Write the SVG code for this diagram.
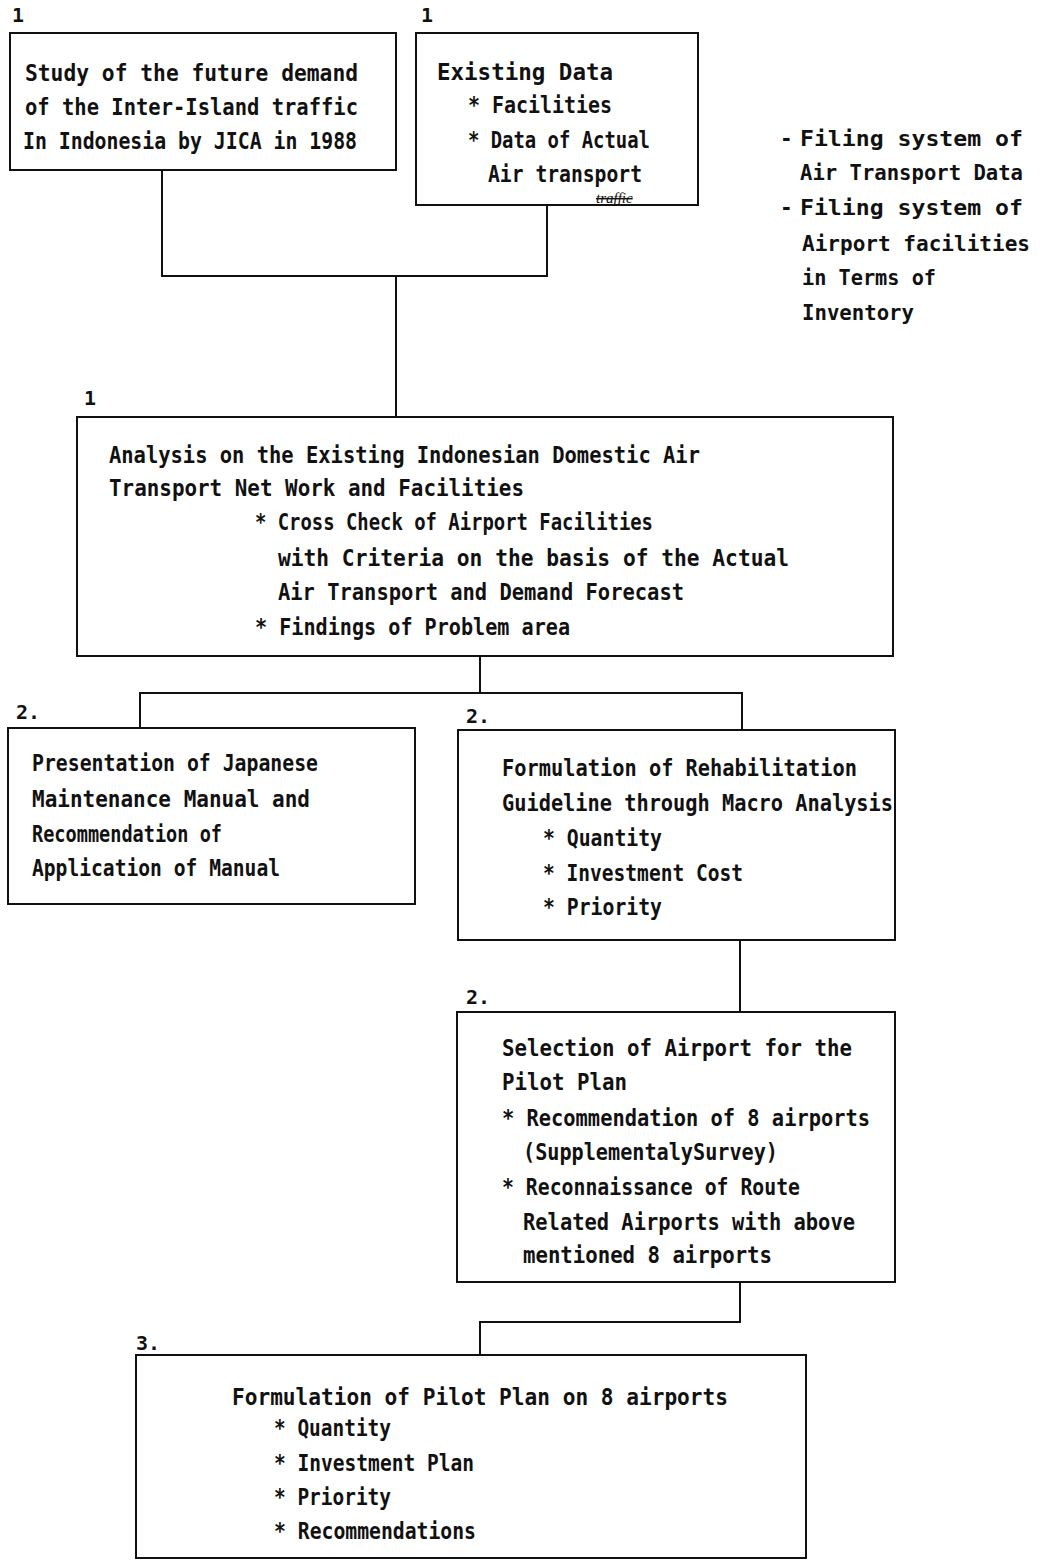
<svg xmlns="http://www.w3.org/2000/svg" width="1043" height="1564" viewBox="0 0 1043 1564">
<style>
.bg{fill:#ffffff}
.box{fill:none;stroke:#111;stroke-width:2}
.con{fill:none;stroke:#111;stroke-width:2}
.t{font-family:"DejaVu Sans Mono","Liberation Mono",monospace;font-size:23px;font-weight:bold;fill:#111}
.s{font-family:"DejaVu Sans Mono","Liberation Mono",monospace;font-size:21px;font-weight:bold;fill:#111}
.lb{font-family:"DejaVu Sans Mono","Liberation Mono",monospace;font-size:20px;font-weight:bold;fill:#111}
.hw{font-family:"Liberation Serif",serif;font-size:15px;font-style:italic;fill:#111;text-decoration:line-through}
</style>
<rect class="bg" x="0" y="0" width="1043" height="1564"/>
<g id="connectors">
<polyline class="con" points="162,170 162,276 547,276 547,205"/>
<line class="con" x1="396" y1="276" x2="396" y2="417"/>
<line class="con" x1="480" y1="656" x2="480" y2="693"/>
<polyline class="con" points="140,728 140,693 742,693 742,730"/>
<line class="con" x1="740" y1="940" x2="740" y2="1012"/>
<polyline class="con" points="740,1282 740,1322 480,1322 480,1355"/>
</g>
<g id="nodeA">
<text class="lb" x="12" y="22">1</text>
<rect class="box" x="10" y="33" width="386" height="137"/>
<text class="t" x="25" y="81" textLength="333" lengthAdjust="spacingAndGlyphs">Study  of  the  future demand</text>
<text class="t" x="25" y="115" textLength="333" lengthAdjust="spacingAndGlyphs">of the Inter-Island   traffic</text>
<text class="t" x="23" y="149" textLength="334" lengthAdjust="spacingAndGlyphs">In Indonesia  by  JICA in 1988</text>
</g>
<g id="nodeB">
<text class="lb" x="421" y="22">1</text>
<rect class="box" x="416" y="33" width="282" height="172"/>
<text class="t" x="437" y="80" textLength="176" lengthAdjust="spacingAndGlyphs">Existing  Data</text>
<text class="t" x="468" y="113" textLength="144" lengthAdjust="spacingAndGlyphs">* Facilities</text>
<text class="t" x="468" y="148" textLength="182" lengthAdjust="spacingAndGlyphs">* Data of Actual</text>
<text class="t" x="488" y="182" textLength="154" lengthAdjust="spacingAndGlyphs">Air transport</text>
<text class="hw" x="596" y="203">traffic</text>
</g>
<g id="sideNote">
<text class="s" x="780" y="146">-</text>
<text class="s" x="800" y="146" textLength="223" lengthAdjust="spacingAndGlyphs">Filing system of</text>
<text class="s" x="800" y="180" textLength="223" lengthAdjust="spacingAndGlyphs">Air Transport Data</text>
<text class="s" x="780" y="215">-</text>
<text class="s" x="800" y="215" textLength="223" lengthAdjust="spacingAndGlyphs">Filing system of</text>
<text class="s" x="802" y="251" textLength="228" lengthAdjust="spacingAndGlyphs">Airport facilities</text>
<text class="s" x="802" y="285" textLength="134" lengthAdjust="spacingAndGlyphs">in Terms of</text>
<text class="s" x="802" y="320" textLength="112" lengthAdjust="spacingAndGlyphs">Inventory</text>
</g>
<g id="nodeC">
<text class="lb" x="84" y="405">1</text>
<rect class="box" x="77" y="417" width="816" height="239"/>
<text class="t" x="109" y="463" textLength="591" lengthAdjust="spacingAndGlyphs">Analysis  on  the Existing Indonesian Domestic Air</text>
<text class="t" x="109" y="496" textLength="415" lengthAdjust="spacingAndGlyphs">Transport Net Work and  Facilities</text>
<text class="t" x="255" y="530" textLength="398" lengthAdjust="spacingAndGlyphs">* Cross Check of Airport Facilities</text>
<text class="t" x="278" y="566" textLength="511" lengthAdjust="spacingAndGlyphs">with Criteria on  the basis of  the Actual</text>
<text class="t" x="278" y="600" textLength="406" lengthAdjust="spacingAndGlyphs">Air Transport and  Demand Forecast</text>
<text class="t" x="255" y="635" textLength="315" lengthAdjust="spacingAndGlyphs">* Findings of  Problem area</text>
</g>
<g id="nodeD">
<text class="lb" x="16" y="719">2.</text>
<rect class="box" x="8" y="728" width="407" height="176"/>
<text class="t" x="32" y="771" textLength="286" lengthAdjust="spacingAndGlyphs">Presentation of  Japanese</text>
<text class="t" x="32" y="807" textLength="278" lengthAdjust="spacingAndGlyphs">Maintenance Manual  and</text>
<text class="t" x="32" y="842" textLength="190" lengthAdjust="spacingAndGlyphs">Recommendation of</text>
<text class="t" x="32" y="876" textLength="248" lengthAdjust="spacingAndGlyphs">Application of  Manual</text>
</g>
<g id="nodeE">
<text class="lb" x="466" y="723">2.</text>
<rect class="box" x="458" y="730" width="437" height="210"/>
<text class="t" x="502" y="776" textLength="355" lengthAdjust="spacingAndGlyphs">Formulation of  Rehabilitation</text>
<text class="t" x="502" y="811" textLength="391" lengthAdjust="spacingAndGlyphs">Guideline through Macro Analysis</text>
<text class="t" x="543" y="846" textLength="119" lengthAdjust="spacingAndGlyphs">* Quantity</text>
<text class="t" x="543" y="881" textLength="200" lengthAdjust="spacingAndGlyphs">* Investment Cost</text>
<text class="t" x="543" y="915" textLength="119" lengthAdjust="spacingAndGlyphs">* Priority</text>
</g>
<g id="nodeF">
<text class="lb" x="466" y="1004">2.</text>
<rect class="box" x="457" y="1012" width="438" height="270"/>
<text class="t" x="502" y="1056" textLength="350" lengthAdjust="spacingAndGlyphs">Selection of  Airport for  the</text>
<text class="t" x="502" y="1090" textLength="125" lengthAdjust="spacingAndGlyphs">Pilot Plan</text>
<text class="t" x="502" y="1126" textLength="368" lengthAdjust="spacingAndGlyphs">* Recommendation of  8  airports</text>
<text class="t" x="523" y="1160" textLength="255" lengthAdjust="spacingAndGlyphs">(SupplementalySurvey)</text>
<text class="t" x="502" y="1195" textLength="298" lengthAdjust="spacingAndGlyphs">* Reconnaissance of  Route</text>
<text class="t" x="523" y="1230" textLength="332" lengthAdjust="spacingAndGlyphs">Related Airports with  above</text>
<text class="t" x="523" y="1263" textLength="249" lengthAdjust="spacingAndGlyphs">mentioned 8  airports</text>
</g>
<g id="nodeG">
<text class="lb" x="136" y="1350">3.</text>
<rect class="box" x="136" y="1355" width="670" height="203"/>
<text class="t" x="232" y="1405" textLength="496" lengthAdjust="spacingAndGlyphs">Formulation of  Pilot Plan  on  8  airports</text>
<text class="t" x="274" y="1436" textLength="117" lengthAdjust="spacingAndGlyphs">* Quantity</text>
<text class="t" x="274" y="1471" textLength="200" lengthAdjust="spacingAndGlyphs">* Investment Plan</text>
<text class="t" x="274" y="1505" textLength="117" lengthAdjust="spacingAndGlyphs">* Priority</text>
<text class="t" x="274" y="1539" textLength="202" lengthAdjust="spacingAndGlyphs">* Recommendations</text>
</g>
</svg>
